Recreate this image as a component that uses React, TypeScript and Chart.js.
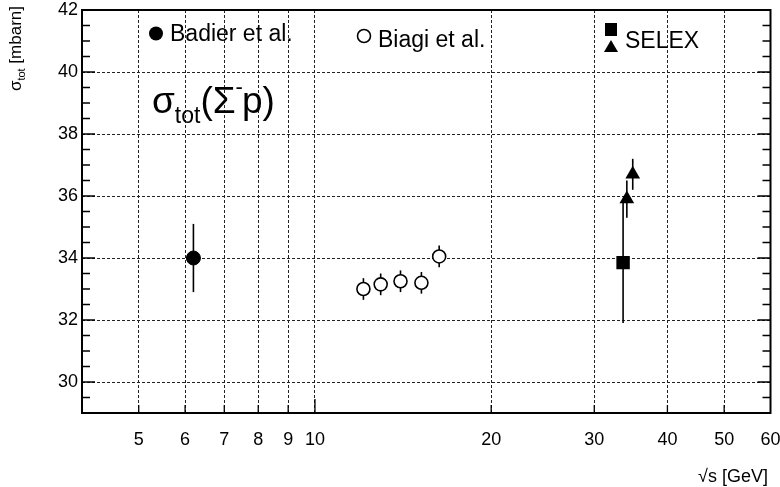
import React, { useEffect, useRef } from 'react';
import { Chart, registerables } from 'chart.js';

Chart.register(...registerables);

// ---- data ----
const badierX = [6.2];
const badierY = [34.0];
const badierErr = [1.1];

const biagiX = [12.1, 12.95, 14.0, 15.2, 16.3];
const biagiY = [33.0, 33.15, 33.25, 33.2, 34.05];
const biagiErr = [0.35, 0.35, 0.35, 0.35, 0.35];

const selexSqX = [33.6];
const selexSqY = [33.85];
const selexSqErr = [1.95];

const selexTriX = [34.1, 34.9];
const selexTriY = [35.9, 36.7];
const selexTriErr = [0.6, 0.5];

const xTickValues = [4, 5, 6, 7, 8, 9, 10, 20, 30, 40, 50, 60];
const xTickLabels = ['', '5', '6', '7', '8', '9', '10', '20', '30', '40', '50', '60'];
const xGridValues = [5, 6, 7, 8, 9, 10, 20, 30, 40, 50];
const yLabelValues = [30, 32, 34, 36, 38, 40, 42];
const yGridValues = [30, 32, 34, 36, 38, 40];

const FONT = '"Liberation Sans", Arial, Helvetica, sans-serif';

const toPts = (xs: number[], ys: number[]) => xs.map((x, i) => ({ x, y: ys[i] }));

const errorBars = {
  id: 'errorBars',
  beforeDatasetsDraw(chart: any) {
    const ctx = chart.ctx;
    const ys = chart.scales.y;
    chart.data.datasets.forEach((ds: any, i: number) => {
      const errs = ds.errors;
      if (!errs) return;
      const meta = chart.getDatasetMeta(i);
      ctx.save();
      ctx.strokeStyle = '#000';
      ctx.lineWidth = 1.6;
      meta.data.forEach((pt: any, j: number) => {
        const d = ds.data[j];
        const e = errs[j];
        ctx.beginPath();
        ctx.moveTo(pt.x, ys.getPixelForValue(d.y - e));
        ctx.lineTo(pt.x, ys.getPixelForValue(d.y + e));
        ctx.stroke();
      });
      ctx.restore();
    });
  },
};

const frameAndText = {
  id: 'frameAndText',
  afterDraw(chart: any) {
    const ctx = chart.ctx;
    const a = chart.chartArea;
    const xs = chart.scales.x;
    const ys = chart.scales.y;
    ctx.save();
    ctx.strokeStyle = '#000';
    // tick marks (inward)
    ctx.lineWidth = 1.3;
    for (let v = ys.min; v <= ys.max + 1e-9; v += 0.5) {
      const py = ys.getPixelForValue(v);
      const len = Math.abs(v % 2) < 1e-9 ? 13 : 8;
      ctx.beginPath();
      ctx.moveTo(a.left, py);
      ctx.lineTo(a.left + len, py);
      ctx.moveTo(a.right, py);
      ctx.lineTo(a.right - len, py);
      ctx.stroke();
    }
    xGridValues.forEach((v) => {
      const px = xs.getPixelForValue(v);
      const len = v === 10 ? 14 : 8;
      ctx.beginPath();
      ctx.moveTo(px, a.bottom);
      ctx.lineTo(px, a.bottom - len);
      ctx.stroke();
    });
    // frame
    ctx.lineWidth = 2;
    ctx.strokeRect(a.left, a.top, a.right - a.left, a.bottom - a.top);

    ctx.fillStyle = '#000';
    ctx.textAlign = 'left';
    ctx.textBaseline = 'alphabetic';

    // big label sigma_tot(Sigma^- p)
    let x = 152;
    const base = 113;
    ctx.font = `37px ${FONT}`;
    ctx.fillText('σ', x, base);
    x += ctx.measureText('σ').width;
    ctx.font = `23px ${FONT}`;
    ctx.fillText('tot', x, base + 10);
    x += ctx.measureText('tot').width;
    ctx.font = `37px ${FONT}`;
    ctx.fillText('(Σ', x, base);
    x += ctx.measureText('(Σ').width;
    ctx.font = `22px ${FONT}`;
    ctx.fillText('-', x, base - 19);
    x += ctx.measureText('-').width - 1;
    ctx.font = `37px ${FONT}`;
    ctx.fillText('p)', x, base);

    // legend entries
    ctx.font = `23px ${FONT}`;
    ctx.beginPath();
    ctx.arc(156, 33.5, 7, 0, Math.PI * 2);
    ctx.fill();
    ctx.fillText('Badier et al.', 170, 41);

    ctx.lineWidth = 1.6;
    ctx.beginPath();
    ctx.arc(364, 36, 6.5, 0, Math.PI * 2);
    ctx.stroke();
    ctx.fillText('Biagi et al.', 378, 47);

    ctx.fillRect(605, 23, 12, 13);
    ctx.beginPath();
    ctx.moveTo(611, 40);
    ctx.lineTo(618, 52);
    ctx.lineTo(604, 52);
    ctx.closePath();
    ctx.fill();
    ctx.fillText('SELEX', 625, 48);

    // x title
    ctx.font = `18px ${FONT}`;
    ctx.textAlign = 'right';
    ctx.textBaseline = 'middle';
    ctx.fillText('√s [GeV]', 768, 477);

    // y title (rotated)
    ctx.save();
    ctx.translate(21, 6);
    ctx.rotate(-Math.PI / 2);
    ctx.textAlign = 'left';
    ctx.textBaseline = 'alphabetic';
    ctx.font = `17px ${FONT}`;
    const wSig = ctx.measureText('σ').width;
    const wRest = ctx.measureText(' [mbarn]').width;
    ctx.font = `11px ${FONT}`;
    const wTot = ctx.measureText('tot').width;
    const total = wSig + wTot + wRest;
    let tx = -total;
    ctx.font = `17px ${FONT}`;
    ctx.fillText('σ', tx, 0);
    tx += wSig;
    ctx.font = `11px ${FONT}`;
    ctx.fillText('tot', tx, 4);
    tx += wTot;
    ctx.font = `17px ${FONT}`;
    ctx.fillText(' [mbarn]', tx, 0);
    ctx.restore();

    ctx.restore();
  },
};

export default function App() {
  const ref = useRef<HTMLCanvasElement | null>(null);
  useEffect(() => {
    document.body.style.margin = '0';
    const canvas = ref.current;
    if (!canvas) return;
    const chart = new Chart(canvas, {
      type: 'scatter',
      data: {
        datasets: [
          {
            label: 'Badier et al.',
            data: toPts(badierX, badierY),
            errors: badierErr,
            pointStyle: 'circle',
            pointRadius: 7,
            backgroundColor: '#000',
            borderColor: '#000',
            borderWidth: 1,
          } as any,
          {
            label: 'Biagi et al.',
            data: toPts(biagiX, biagiY),
            errors: biagiErr,
            pointStyle: 'circle',
            pointRadius: 6.5,
            backgroundColor: '#fff',
            borderColor: '#000',
            borderWidth: 1.6,
          } as any,
          {
            label: 'SELEX (square)',
            data: toPts(selexSqX, selexSqY),
            errors: selexSqErr,
            pointStyle: 'rect',
            pointRadius: 9.5,
            backgroundColor: '#000',
            borderColor: '#000',
            borderWidth: 0,
          } as any,
          {
            label: 'SELEX (triangle)',
            data: toPts(selexTriX, selexTriY),
            errors: selexTriErr,
            pointStyle: 'triangle',
            pointRadius: 8.5,
            backgroundColor: '#000',
            borderColor: '#000',
            borderWidth: 0,
          } as any,
        ],
      },
      options: {
        responsive: false,
        animation: false,
        devicePixelRatio: 1,
        layout: { padding: { top: 10, right: 9, left: 0, bottom: 0 } },
        plugins: {
          legend: { display: false },
          tooltip: { enabled: false },
        },
        scales: {
          x: {
            type: 'logarithmic',
            min: 4,
            max: 60,
            afterBuildTicks: (s: any) => {
              s.ticks = xTickValues.map((v) => ({ value: v }));
            },
            afterFit: (s: any) => {
              s.height = 74;
              s.paddingLeft = 0;
              s.paddingRight = 0;
            },
            ticks: {
              autoSkip: false,
              maxRotation: 0,
              minRotation: 0,
              padding: 16,
              color: '#000',
              font: { family: FONT, size: 18 },
              callback: (v: any) => {
                const i = xTickValues.indexOf(Number(v));
                return i >= 0 ? xTickLabels[i] : '';
              },
            },
            grid: {
              drawTicks: false,
              lineWidth: 1,
              color: (c: any) =>
                c.tick && xGridValues.includes(c.tick.value) ? '#222' : 'rgba(0,0,0,0)',
            },
            border: { display: false, dash: [3, 2] },
          },
          y: {
            type: 'linear',
            min: 29,
            max: 42,
            afterBuildTicks: (s: any) => {
              const t: any[] = [];
              for (let v = 29; v <= 42; v += 0.5) t.push({ value: v });
              s.ticks = t;
            },
            afterFit: (s: any) => {
              s.width = 82;
              s.paddingTop = 0;
              s.paddingBottom = 0;
            },
            ticks: {
              autoSkip: false,
              padding: 4,
              color: '#000',
              font: { family: FONT, size: 18 },
              callback: (v: any) => (yLabelValues.includes(Number(v)) ? String(v) : ''),
            },
            grid: {
              drawTicks: false,
              lineWidth: 1,
              color: (c: any) =>
                c.tick && yGridValues.includes(c.tick.value) ? '#222' : 'rgba(0,0,0,0)',
            },
            border: { display: false, dash: [3, 2] },
          },
        },
      } as any,
      plugins: [errorBars, frameAndText],
    });
    return () => chart.destroy();
  }, []);
  return (
    <canvas
      ref={ref}
      width={780}
      height={487}
      style={{ display: 'block', width: '780px', height: '487px' }}
    />
  );
}
